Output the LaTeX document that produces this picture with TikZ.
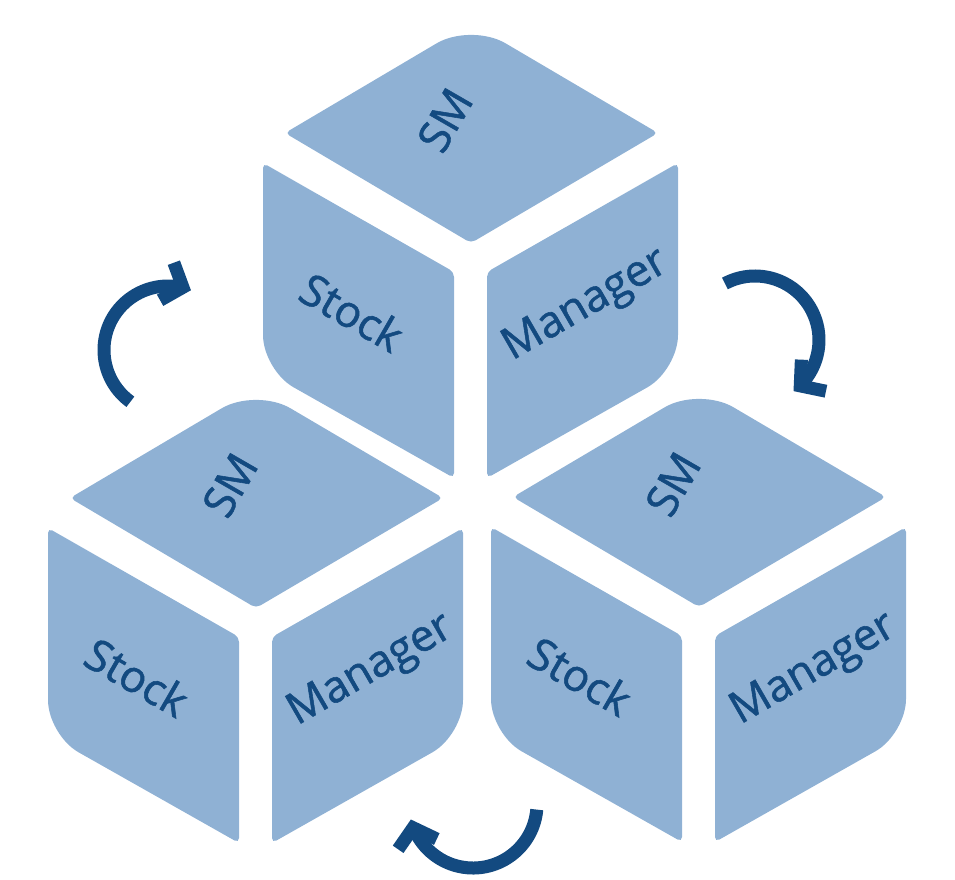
\documentclass[tikz,border=0pt]{standalone}
\usepackage{fontspec}
\setmainfont{Open Sans}
\newfontfamily\smfont{Open Sans}[FakeBold=1.2]
\usetikzlibrary{arrows.meta,bending}
\definecolor{facefill}{HTML}{8FB1D4}
\definecolor{smblue}{HTML}{134A80}
\tikzset{
  face/.style={fill=facefill},
  facetext/.style={text=smblue, font=\smfont\fontsize{44}{44}\selectfont},
  turn/.style={draw=smblue, line width=13pt, -{Straight Barb[length=17pt,width=40pt]}}
}
\begin{document}
\begin{tikzpicture}[x=1pt,y=-1pt]
  \useasboundingbox (0,0) rectangle (955,879);

  % three cubes: top, bottom left, bottom right
  \foreach \cx/\cy/\nm in {471/133/top, 256/498/left, 699/497/right}{
    \begin{scope}[shift={(\cx,\cy)}]
      % top face
      \fill[face] (-93,55) [rounded corners=5pt] -- (-186,0) [rounded corners=40pt] -- (0,-110)
        [rounded corners=5pt] -- (187,0) -- (0,110) -- cycle;
      % left face
      \fill[face] (-17,240) [rounded corners=5pt] -- (-17,345) [rounded corners=35pt] -- (-208,237)
        [rounded corners=5pt] -- (-208,30) -- (-17,139) -- cycle;
      % right face
      \fill[face] (16,240) [rounded corners=5pt] -- (16,345) [rounded corners=35pt] -- (207,237)
        [rounded corners=5pt] -- (207,30) -- (16,139) -- cycle;
      % labels
      \node[facetext, rotate=60] (\nm-sm) at (-26,-13) {SM};
      \node[facetext, rotate=-30] (\nm-stock) at (-119,179) {Stock};
      \node[facetext, rotate=30] (\nm-mgr) at (115,173) {Manager};
    \end{scope}
  }

  % turning arrows
  \coordinate (turnA) at (168,350);
  \coordinate (turnB) at (755,340);
  \coordinate (turnC) at (473,804);
  \draw[turn] (turnA) ++(126:64) arc[start angle=126, end angle=291, radius=64];
  \draw[turn] (turnB) ++(242:64) arc[start angle=242, end angle=413, radius=64];
  \draw[turn] (turnC) ++(5:64) arc[start angle=5, end angle=166, radius=64];
\end{tikzpicture}
\end{document}
